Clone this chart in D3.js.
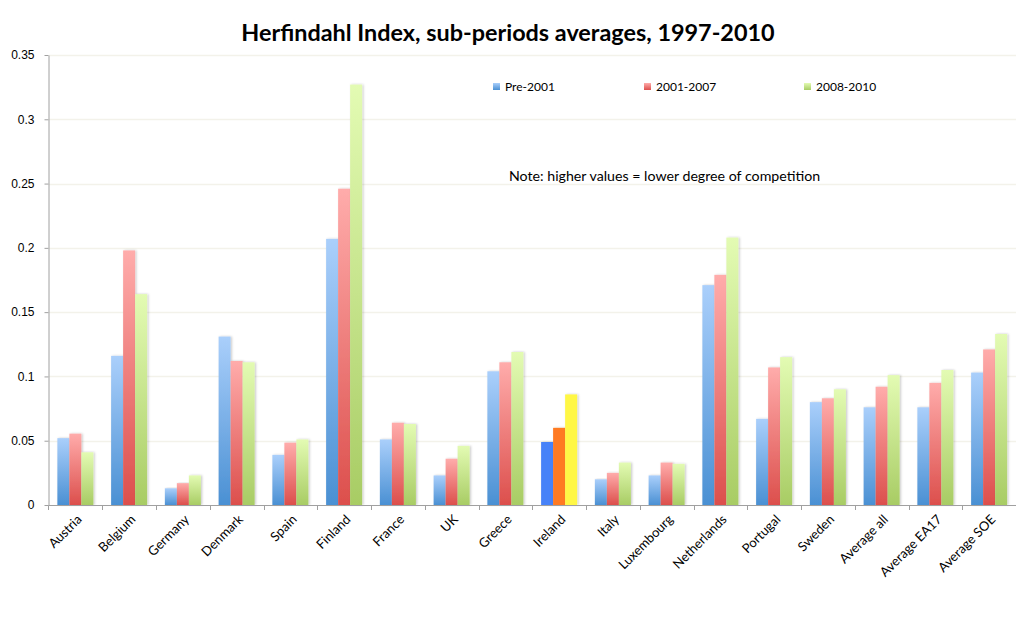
<!DOCTYPE html>
<html>
<head>
<meta charset="utf-8">
<script src="https://cdn.jsdelivr.net/npm/d3@7"></script>
<style>
  body { margin: 0; background: #fff; }
  svg { font-family: Lato, "Open Sans", sans-serif; }
  .axis path, .axis line { stroke: #a0a0a0; }
  .axis text { fill: #000; font-size: 12px; }
  .axis text.xlabel { font-size: 13px; }
</style>
</head>
<body>
<script>
// chart data
var categories = ["Austria", "Belgium", "Germany", "Denmark", "Spain", "Finland", "France", "UK", "Greece",
    "Ireland", "Italy", "Luxembourg", "Netherlands", "Portugal", "Sweden", "Average all", "Average EA17", "Average SOE"];
var seriesNames = ["Pre-2001", "2001-2007", "2008-2010"];
var pre2001 = [0.052, 0.116, 0.013, 0.131, 0.039, 0.207, 0.051, 0.023, 0.104, 0.049, 0.020, 0.023, 0.171, 0.067, 0.080, 0.076, 0.076, 0.103];
var p2001_2007 = [0.0555, 0.198, 0.017, 0.112, 0.0485, 0.246, 0.064, 0.036, 0.111, 0.060, 0.025, 0.033, 0.179, 0.107, 0.083, 0.092, 0.095, 0.121];
var p2008_2010 = [0.041, 0.164, 0.023, 0.111, 0.051, 0.327, 0.063, 0.046, 0.119, 0.086, 0.033, 0.032, 0.208, 0.115, 0.090, 0.101, 0.105, 0.133];
var yTicks = [0, 0.05, 0.1, 0.15, 0.2, 0.25, 0.3, 0.35];
var highlighted = "Ireland";

var w = 1020, h = 622;

var svg = d3.select("body").append("svg")
    .attr("width", w)
    .attr("height", h);

// gradients for the normal bars, solid colours for the highlighted group
var gradStops = [
    {top: "#aacffb", bottom: "#4a90d3"},
    {top: "#ffacab", bottom: "#dc4f4c"},
    {top: "#e3fbb3", bottom: "#a8cc64"}
];
var solid = ["#4682f8", "#ff7a21", "#fff744"];

var defs = svg.append("defs");
gradStops.forEach(function(g, i){
    var lg = defs.append("linearGradient")
        .attr("id", "grad" + i)
        .attr("x1", 0).attr("y1", 0).attr("x2", 0).attr("y2", 1);
    lg.append("stop").attr("offset", "0%").attr("stop-color", g.top);
    lg.append("stop").attr("offset", "100%").attr("stop-color", g.bottom);
});
var shadow = defs.append("filter").attr("id", "shadow")
    .attr("x", "-20%").attr("y", "-5%").attr("width", "150%").attr("height", "110%");
shadow.append("feDropShadow")
    .attr("dx", 1.2).attr("dy", 0).attr("stdDeviation", 0.8)
    .attr("flood-color", "#000").attr("flood-opacity", 0.22);

// scales
var x = d3.scaleBand()
    .domain(categories)
    .range([48.5, 1016])
    .paddingInner(0.33)
    .paddingOuter(0.165);

var xs = d3.scaleBand()
    .domain(seriesNames)
    .range([0, x.bandwidth()]);

var y = d3.scaleLinear()
    .domain([0, 0.35])
    .range([505, 55]);

// gridlines
svg.append("g").selectAll("line")
    .data(yTicks.slice(1))
    .enter().append("line")
    .attr("x1", 49).attr("x2", 1016)
    .attr("y1", function(d){ return Math.round(y(d)) + 0.5; })
    .attr("y2", function(d){ return Math.round(y(d)) + 0.5; })
    .style("stroke", "#f3f2ea")
    .style("stroke-width", 1.5);

// bars
var rows = categories.map(function(c, i){
    return {cat: c, values: [pre2001[i], p2001_2007[i], p2008_2010[i]]};
});

var groups = svg.append("g").selectAll("g")
    .data(rows)
    .enter().append("g")
    .attr("transform", function(d){ return "translate(" + x(d.cat) + ",0)"; });

groups.selectAll("rect")
    .data(function(d){
        return d.values.map(function(v, j){ return {cat: d.cat, s: seriesNames[j], j: j, v: v}; });
    })
    .enter().append("rect")
    .attr("x", function(d){ return xs(d.s); })
    .attr("width", xs.bandwidth())
    .attr("y", function(d){ return y(d.v); })
    .attr("height", function(d){ return y(0) - y(d.v); })
    .attr("filter", "url(#shadow)")
    .style("fill", function(d){
        return d.cat === highlighted ? solid[d.j] : "url(#grad" + d.j + ")";
    });

// y axis
var yAxis = d3.axisLeft(y)
    .tickValues(yTicks)
    .tickSize(4)
    .tickSizeOuter(0)
    .tickPadding(10)
    .tickFormat(d3.format("~g"));

svg.append("g")
    .attr("class", "axis")
    .attr("transform", "translate(48.5,0)")
    .call(yAxis);

// x axis line and ticks between categories
var xAxisG = svg.append("g").attr("class", "axis");
xAxisG.append("line")
    .attr("x1", 48.5).attr("x2", 1016)
    .attr("y1", 505.5).attr("y2", 505.5);
xAxisG.selectAll(".xtick")
    .data(categories)
    .enter().append("line")
    .attr("class", "xtick")
    .attr("x1", function(d){ return Math.round(x(d) - x.step() * x.paddingInner() / 2) + 0.5; })
    .attr("x2", function(d){ return Math.round(x(d) - x.step() * x.paddingInner() / 2) + 0.5; })
    .attr("y1", 505.5).attr("y2", 510);

// rotated category labels
xAxisG.selectAll(".xlabel")
    .data(categories)
    .enter().append("text")
    .attr("class", "xlabel")
    .attr("text-anchor", "end")
    .attr("transform", function(d){
        return "translate(" + (x(d) + x.bandwidth() / 2 + 4) + ",517) rotate(-45)";
    })
    .attr("dy", "0.35em")
    .text(function(d){ return d; });

// title
svg.append("text")
    .attr("x", 508)
    .attr("y", 41)
    .attr("text-anchor", "middle")
    .style("font-weight", "bold")
    .style("font-size", "23.4px")
    .text("Herfindahl Index, sub-periods averages, 1997-2010");

// legend
var legendX = [493, 644, 804];
var legend = svg.append("g").selectAll("g")
    .data(seriesNames)
    .enter().append("g")
    .attr("transform", function(d, i){ return "translate(" + legendX[i] + ",83)"; });

legend.append("rect")
    .attr("width", 7).attr("height", 7)
    .style("fill", function(d, i){ return "url(#grad" + i + ")"; });

legend.append("text")
    .attr("x", 12)
    .attr("y", 8)
    .style("font-size", "12px")
    .text(function(d){ return d; });

// note
svg.append("text")
    .attr("x", 509)
    .attr("y", 181)
    .style("font-size", "14.2px")
    .text("Note: higher values = lower degree of competition");
</script>
</body>
</html>
